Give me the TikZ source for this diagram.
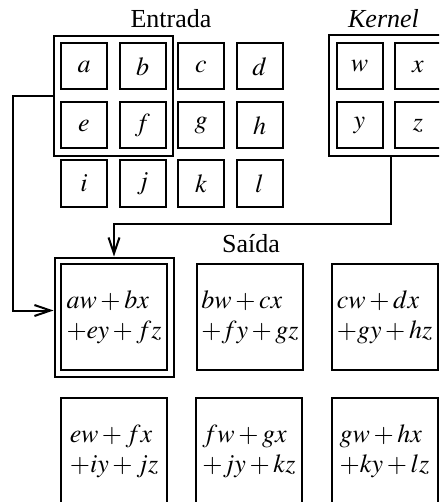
\documentclass[tikz,border=0pt]{standalone}
\usepackage{mathptmx}
\usepackage[no-math]{fontspec}
\setmainfont{Liberation Serif}
\usetikzlibrary{fit,arrows.meta}
\tikzset{
  cellbox/.style={draw, line width=1pt, minimum size=23pt, inner sep=0pt},
  outbox/.style={draw, line width=1pt, minimum size=53pt, inner sep=0pt, align=left},
  hlbox/.style={draw, line width=1pt, inner sep=#1},
  link/.style={line width=1pt, -{Straight Barb[length=8pt,width=5.5pt]}}
}

\begin{document}
\begin{tikzpicture}[x=0.5pt, y=-0.5pt, font=\fontsize{13pt}{15pt}\selectfont]
  \useasboundingbox (0,0) rectangle (439,502);
  \clip (0,0) rectangle (439,502);
  % Entrada
  \node[anchor=base] (inlabel) at (171,28) {Entrada};
  \node[cellbox] (a) at (84,66.5) {$a$};
  \node[cellbox] (b) at (142.5,66.5) {$b$};
  \node[cellbox] (c) at (201,66.5) {$c$};
  \node[cellbox] (d) at (259.5,66.5) {$d$};
  \node[cellbox] (e) at (84,125.5) {$e$};
  \node[cellbox] (f) at (142.5,125.5) {$f$};
  \node[cellbox] (g) at (201,125.5) {$g$};
  \node[cellbox] (h) at (259.5,125.5) {$h$};
  \node[cellbox] (i) at (84,183.5) {$i$};
  \node[cellbox] (j) at (142.5,183.5) {$j$};
  \node[cellbox] (k) at (201,183.5) {$k$};
  \node[cellbox] (l) at (259.5,183.5) {$l$};
  \node[hlbox=3.2pt, fit=(a)(f)] (inhl) {};
  % Kernel
  \node[anchor=base] (kerlabel) at (383.5,28) {\textit{Kernel}};
  \node[cellbox] (w) at (359.5,66.5) {$w$};
  \node[cellbox] (x) at (418,66.5) {$x$};
  \node[cellbox] (y) at (359.5,125.5) {$y$};
  \node[cellbox] (z) at (418,125.5) {$z$};
  \node[hlbox=3.5pt, fit=(w)(z)] (kerhl) {};
  % Saida
  \node[anchor=base] (outlabel) at (251,252) {Saída};
  \node[outbox] (o1) at (114,317) {$aw+bx$\\$+ey+fz$};
  \node[outbox] (o2) at (250,317) {$bw+cx$\\$+fy+gz$};
  \node[outbox] (o3) at (384.5,317) {$cw+dx$\\$+gy+hz$};
  \node[outbox] (o4) at (114,451) {$ew+fx$\\$+iy+jz$};
  \node[outbox] (o5) at (249,451) {$fw+gx$\\$+jy+kz$};
  \node[outbox] (o6) at (384.5,451) {$gw+hx$\\$+ky+lz$};
  \node[hlbox=2.75pt, fit=(o1)] (o1hl) {};
  % connectors
  \draw[link] ([xshift=1pt]kerhl.south) -- ++(0,-33pt) -| (o1hl.north);
  \draw[link] (inhl.west) -- ++(-20pt,0) |- ([yshift=3.25pt]o1hl.west);
\end{tikzpicture}
\end{document}
